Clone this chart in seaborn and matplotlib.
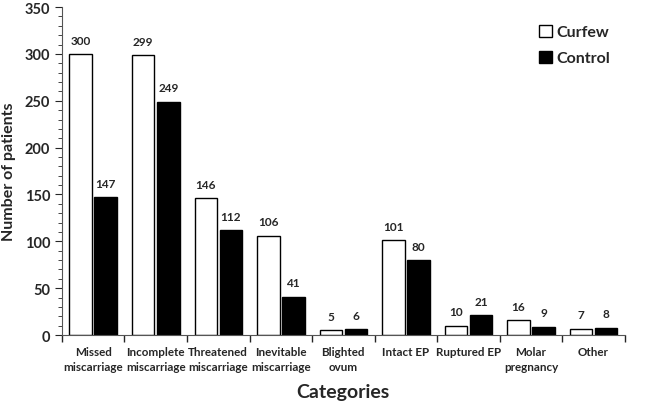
import numpy as np
import pandas as pd
import seaborn as sns
import matplotlib.pyplot as plt
from matplotlib.patches import Patch
from matplotlib.ticker import MultipleLocator, FixedLocator

categories = ["Missed\nmiscarriage", "Incomplete\nmiscarriage", "Threatened\nmiscarriage",
              "Inevitable\nmiscarriage", "Blighted\novum", "Intact EP", "Ruptured EP",
              "Molar\npregnancy", "Other"]
curfew = [300, 299, 146, 106, 5, 101, 10, 16, 7]
control = [147, 249, 112, 41, 6, 80, 21, 9, 8]
groups = ["Curfew", "Control"]

df = pd.DataFrame({
    "Category": categories * 2,
    "Group": ["Curfew"] * len(categories) + ["Control"] * len(categories),
    "Patients": curfew + control,
})

sns.set_style("ticks")
plt.rcParams["font.family"] = ["Lato", "DejaVu Sans"]
plt.rcParams["font.weight"] = "bold"

fig, ax = plt.subplots(figsize=(6.59, 4.02), dpi=100)
fig.subplots_adjust(left=0.094, right=0.948, bottom=0.164, top=0.98)

sns.barplot(data=df, x="Category", y="Patients", hue="Group", hue_order=groups,
            palette={"Curfew": "white", "Control": "black"}, edgecolor="black",
            linewidth=1, width=0.8, gap=0.1, legend=False, ax=ax)

for cont in ax.containers:
    ax.bar_label(cont, padding=6, fontsize=8.5, fontweight="bold")

ax.set_xlim(-0.5, len(categories) - 0.5)
ax.set_ylim(0, 350)
ax.yaxis.set_major_locator(MultipleLocator(50))
ax.yaxis.set_minor_locator(MultipleLocator(10))
ax.xaxis.set_minor_locator(FixedLocator(np.arange(-0.5, len(categories), 1)))
ax.tick_params(axis="x", which="major", length=0, pad=8, labelsize=8.4)
ax.tick_params(axis="x", which="minor", length=5, width=1)
ax.tick_params(axis="y", which="major", length=5, labelsize=10.5)
ax.tick_params(axis="y", which="minor", length=3)
for lab in ax.get_xticklabels() + ax.get_yticklabels():
    lab.set_fontweight("bold")
for lab in ax.get_xticklabels():
    lab.set_linespacing(1.4)

sns.despine(ax=ax)
ax.spines["left"].set_color("#555555")
ax.spines["bottom"].set_color("#555555")

ax.set_xlabel("Categories", fontsize=14, fontweight="bold", labelpad=8)
ax.set_ylabel("Number of patients", fontsize=11.5, fontweight="bold", labelpad=6)

handles = [Patch(facecolor="white", edgecolor="black", label="Curfew"),
           Patch(facecolor="black", edgecolor="black", label="Control")]
ax.legend(handles=handles, loc="upper right", bbox_to_anchor=(1.0, 0.99), frameon=False,
          prop={"weight": "bold", "size": 11.5}, handlelength=0.8, handleheight=0.8,
          handletextpad=0.3, labelspacing=0.7)

fig.savefig("out.png", dpi=100)
